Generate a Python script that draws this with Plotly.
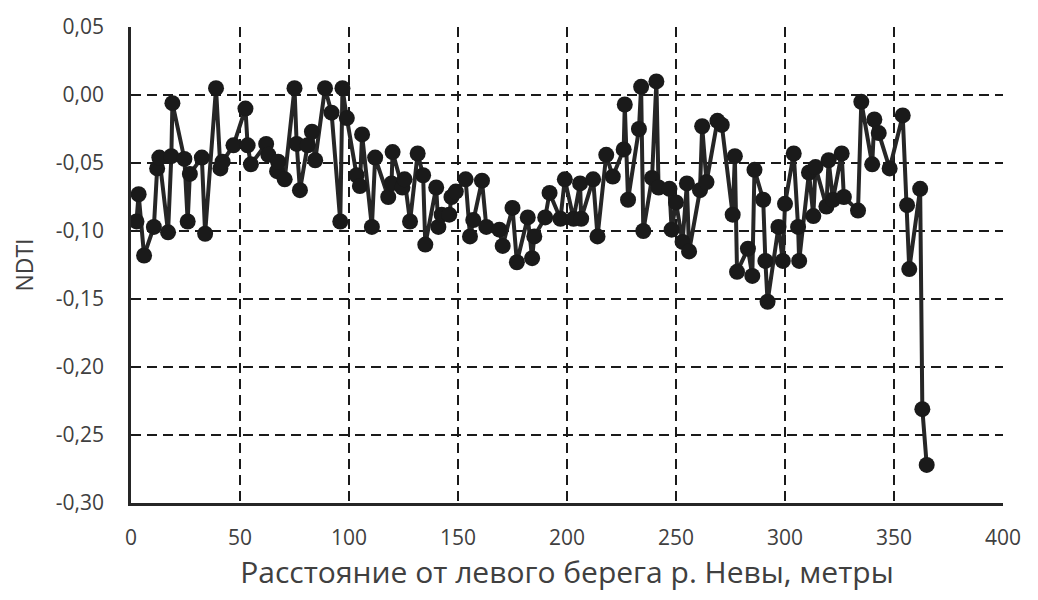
import plotly.graph_objects as go

distance_m = [2.5, 3.5, 6, 10.5, 12, 13, 17, 18.5, 19, 24.5, 26, 27, 32.5, 34, 39, 41, 42, 47,
              52.5, 53.5, 55, 62, 63, 67, 67.5, 70.5, 75, 76, 77.5, 81, 83, 84.5, 89, 92, 96, 97,
              99, 103.5, 105, 106, 110.5, 112, 118, 119.5, 120, 124.5, 125.5, 128, 131.5, 134, 135,
              140, 141, 142.5, 146, 147, 149, 153.5, 155.5, 157, 161, 163, 169, 170.5, 175, 177,
              182, 184, 185, 190, 192, 197, 199, 203, 206, 206.5, 212, 214, 218, 221, 226, 226.5,
              228, 233, 234, 235, 239, 241, 242, 247, 248, 250, 253, 255, 256, 261, 262, 264, 269,
              271, 276, 277, 278, 283, 285, 286, 290, 291, 292, 297, 299, 300, 304, 306, 306.5,
              311, 313, 314, 319, 320, 322, 326, 327, 333.5, 335, 340, 341, 343, 348, 354, 356,
              357, 362, 363, 365]
ndti = [-0.093, -0.073, -0.118, -0.097, -0.054, -0.046, -0.101, -0.045, -0.006, -0.047, -0.093,
        -0.058, -0.046, -0.102, 0.005, -0.054, -0.049, -0.037, -0.010, -0.037, -0.051, -0.036,
        -0.044, -0.056, -0.049, -0.062, 0.005, -0.036, -0.070, -0.037, -0.027, -0.048, 0.005,
        -0.013, -0.093, 0.005, -0.017, -0.059, -0.067, -0.029, -0.097, -0.046, -0.075, -0.065,
        -0.042, -0.068, -0.062, -0.093, -0.043, -0.059, -0.110, -0.068, -0.097, -0.088, -0.088,
        -0.075, -0.071, -0.062, -0.104, -0.092, -0.063, -0.097, -0.099, -0.111, -0.083, -0.123,
        -0.090, -0.120, -0.104, -0.090, -0.072, -0.091, -0.062, -0.091, -0.065, -0.091, -0.062,
        -0.104, -0.044, -0.060, -0.040, -0.007, -0.077, -0.025, 0.006, -0.100, -0.061, 0.010,
        -0.068, -0.069, -0.099, -0.079, -0.108, -0.065, -0.115, -0.070, -0.023, -0.064, -0.019,
        -0.022, -0.088, -0.045, -0.130, -0.113, -0.133, -0.055, -0.077, -0.122, -0.152, -0.097,
        -0.122, -0.080, -0.043, -0.097, -0.122, -0.057, -0.089, -0.053, -0.082, -0.048, -0.077,
        -0.043, -0.075, -0.085, -0.005, -0.051, -0.018, -0.028, -0.054, -0.015, -0.081, -0.128,
        -0.069, -0.231, -0.272]

x_ticks = [0, 50, 100, 150, 200, 250, 300, 350, 400]
x_tick_labels = ["0", "50", "100", "150", "200", "250", "300", "350", "400"]
y_ticks = [0.05, 0.0, -0.05, -0.10, -0.15, -0.20, -0.25, -0.30]
y_tick_labels = ["0,05", "0,00", "-0,05", "-0,10", "-0,15", "-0,20", "-0,25", "-0,30"]

x_title = "Расстояние от левого берега р. Невы, метры"
y_title = "NDTI"

fig = go.Figure()
fig.add_trace(go.Scatter(
    x=distance_m, y=ndti, mode="lines+markers",
    line=dict(color="#262626", width=4),
    marker=dict(color="#1a1a1a", size=16),
    showlegend=False,
))

font_family = "Open Sans, Noto Sans, sans-serif"
text_color = "#404040"
fig.update_layout(
    width=1038, height=600,
    margin=dict(l=131, r=35, t=20, b=97),
    paper_bgcolor="white", plot_bgcolor="white",
    font=dict(family=font_family, color=text_color, size=21),
)
fig.update_xaxes(
    range=[0, 400], tickvals=x_ticks, ticktext=x_tick_labels,
    showgrid=True, gridcolor="#1a1a1a", griddash="10px,6px", gridwidth=2,
    showline=True, linecolor="#262626", linewidth=2.5,
    zeroline=False, ticks="", ticklabelstandoff=14,
    tickfont=dict(size=21, color=text_color),
    title=dict(text=x_title, font=dict(size=30, color=text_color), standoff=12),
)
fig.update_yaxes(
    range=[-0.30, 0.05], tickvals=y_ticks, ticktext=y_tick_labels,
    showgrid=True, gridcolor="#1a1a1a", griddash="10px,6px", gridwidth=2,
    showline=True, linecolor="#262626", linewidth=2.5,
    zeroline=False, ticks="", ticklabelstandoff=20,
    tickfont=dict(size=21, color=text_color),
    title=dict(text=y_title, font=dict(size=23, color=text_color), standoff=16),
)

fig.write_html("out.html")
